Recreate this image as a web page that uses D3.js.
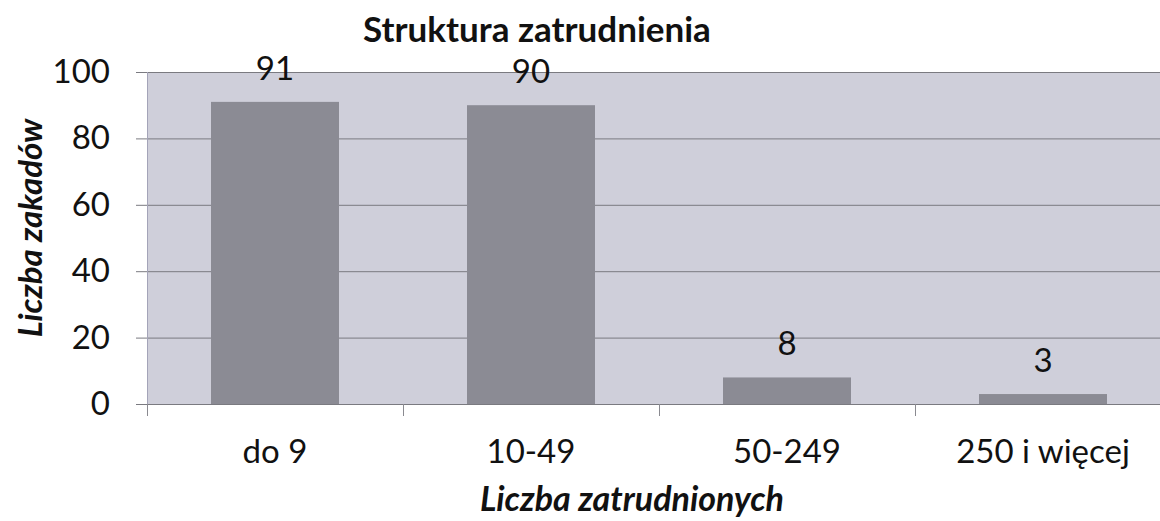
<!DOCTYPE html>
<html>
<head>
<meta charset="utf-8">
<script src="https://cdn.jsdelivr.net/npm/d3@7"></script>
<style>
  body { margin: 0; background: #fff; }
  svg { display: block; font-family: Lato, "Open Sans", sans-serif; }
</style>
</head>
<body>
<svg id="chart" width="1160" height="521"></svg>
<script>
const categories = ["do 9", "10-49", "50-249", "250 i więcej"]
const values = [91, 90, 8, 3]
const yTicks = [0, 20, 40, 60, 80, 100]

const title = "Struktura zatrudnienia"
const xTitle = "Liczba zatrudnionych"
const yTitle = "Liczba zakadów"

const svg = d3.select("#chart")
const plotL = 147, plotR = 1171, plotT = 72, plotB = 404
const fs = 33

const x = d3.scaleBand()
  .domain(categories)
  .range([plotL, plotR])
  .paddingInner(0.5)
  .paddingOuter(0.25)

const y = d3.scaleLinear()
  .domain([0, 100])
  .range([plotB, plotT])

// plot background
svg.append("rect")
  .attr("x", plotL).attr("y", plotT)
  .attr("width", plotR - plotL).attr("height", plotB - plotT)
  .attr("fill", "#cfcfda")

// gridlines + tick marks on the left
svg.append("g").selectAll("line")
  .data(yTicks)
  .enter().append("line")
  .attr("x1", 136).attr("x2", plotR)
  .attr("y1", (d) => y(d) + 0.5).attr("y2", (d) => y(d) + 0.5)
  .attr("stroke", "#7a7a80")
  .attr("stroke-width", 1)

// left axis line
svg.append("line")
  .attr("x1", plotL + 0.5).attr("x2", plotL + 0.5)
  .attr("y1", plotT).attr("y2", plotB + 12)
  .attr("stroke", "#a4a4b8")

// category boundary ticks
const step = x.step()
svg.append("g").selectAll("line")
  .data(d3.range(categories.length + 1))
  .enter().append("line")
  .attr("x1", (i) => plotL + i * step + 0.5)
  .attr("x2", (i) => plotL + i * step + 0.5)
  .attr("y1", plotB).attr("y2", plotB + 12)
  .attr("stroke", "#8a8a90")

// bars
svg.append("g").selectAll("rect")
  .data(values)
  .enter().append("rect")
  .attr("x", (d, i) => x(categories[i]))
  .attr("y", (d) => y(d))
  .attr("width", x.bandwidth())
  .attr("height", (d) => y(0) - y(d))
  .attr("fill", "#8b8b94")

// value labels
svg.append("g").selectAll("text")
  .data(values)
  .enter().append("text")
  .attr("x", (d, i) => x(categories[i]) + x.bandwidth() / 2)
  .attr("y", (d) => y(d) - 22)
  .attr("text-anchor", "middle")
  .attr("font-size", fs)
  .attr("fill", "#111")
  .text((d) => d)

// y tick labels
svg.append("g").selectAll("text")
  .data(yTicks)
  .enter().append("text")
  .attr("x", 110)
  .attr("y", (d) => y(d) + 11)
  .attr("text-anchor", "end")
  .attr("font-size", fs)
  .attr("fill", "#111")
  .text((d) => d)

// category labels
svg.append("g").selectAll("text")
  .data(categories)
  .enter().append("text")
  .attr("x", (d) => x(d) + x.bandwidth() / 2)
  .attr("y", 463)
  .attr("text-anchor", "middle")
  .attr("font-size", fs)
  .attr("fill", "#111")
  .text((d) => d)

// title
svg.append("text")
  .attr("x", 537).attr("y", 42)
  .attr("text-anchor", "middle")
  .attr("font-size", 35)
  .attr("font-weight", "bold")
  .attr("fill", "#111")
  .text(title)

// axis titles
svg.append("text")
  .attr("x", 632).attr("y", 511)
  .attr("text-anchor", "middle")
  .attr("font-size", 34)
  .attr("font-weight", "bold")
  .attr("font-style", "italic")
  .attr("fill", "#111")
  .text(xTitle)

svg.append("text")
  .attr("transform", "translate(42,228) rotate(-90)")
  .attr("text-anchor", "middle")
  .attr("font-size", 33)
  .attr("font-weight", "bold")
  .attr("font-style", "italic")
  .attr("fill", "#111")
  .text(yTitle)
</script>
</body>
</html>
